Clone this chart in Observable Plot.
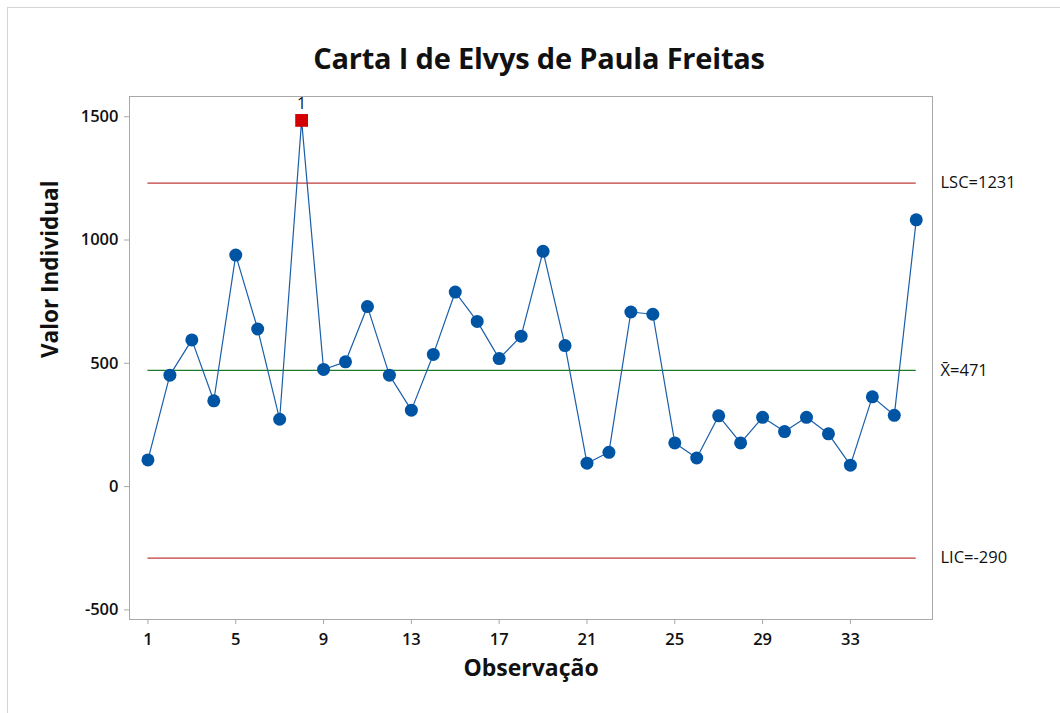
<!DOCTYPE html>
<html>
<head>
<meta charset="utf-8">
<script src="https://cdn.jsdelivr.net/npm/d3@7"></script>
<script src="https://cdn.jsdelivr.net/npm/@observablehq/plot@0.6"></script>
<style>
  html, body { margin: 0; padding: 0; background: #fff; overflow: hidden; }
  #wrap { position: relative; width: 1060px; height: 713px; overflow: hidden; font-family: "Open Sans", "Noto Sans", sans-serif; }
  #border { position: absolute; left: 7px; top: 7px; width: 1200px; height: 900px; border-left: 1px solid #d4d4d4; border-top: 1px solid #d4d4d4; pointer-events: none; }
  #title { height: 80px; box-sizing: border-box; padding-top: 42px; font-size: 29px; line-height: 32px; font-weight: 700; text-align: center; color: #111; padding-left: 18px; letter-spacing: -0.2px; }
  svg { display: block; }
</style>
</head>
<body>
<div id="wrap">
  <div id="border"></div>
  <div id="title">Carta I de Elvys de Paula Freitas</div>
  <div id="chart"></div>
</div>
<script>
// Observation numbers
const observations = [1,2,3,4,5,6,7,8,9,10,11,12,13,14,15,16,17,18,19,20,21,22,23,24,25,26,27,28,29,30,31,32,33,34,35,36];
// Individual values
const values = [108,452,595,348,939,639,273,1485,475,506,730,452,310,536,789,670,519,610,954,572,95,139,708,699,177,116,287,177,281,223,281,214,87,364,289,1082];
// Control limits
const limitNames = ["LSC=1231", "X\u0304=471", "LIC=-290"];
const limitValues = [1231, 471, -290];
const limitColors = ["#c23b3b", "#1d7a2e", "#c23b3b"];
// Out-of-control points (observation numbers) and test label
const flagged = [8];
const flagLabel = "1";
// Tick labels
const xTicks = [1,5,9,13,17,21,25,29,33];
const yTicks = [-500,0,500,1000,1500];

const data = observations.map((o, i) => ({obs: o, value: values[i], flag: flagged.includes(o)}));
const limits = limitNames.map((n, i) => ({name: n, value: limitValues[i], color: limitColors[i], x1: observations[0], x2: observations[observations.length - 1]}));

const chart = Plot.plot({
  width: 1060,
  height: 633,
  marginLeft: 129,
  marginRight: 128,
  marginTop: 16,
  marginBottom: 94,
  style: {fontFamily: "'Open Sans', 'Noto Sans', sans-serif", background: "transparent", overflow: "visible"},
  x: {domain: [0.16, 36.74]},
  y: {domain: [-539, 1582]},
  marks: [
    Plot.frame({stroke: "#a8a8a8"}),
    Plot.axisX({ticks: xTicks, tickFormat: d => String(d), tickSize: 5, tickPadding: 9, fontSize: 16.5, fontWeight: 600, stroke: "#a8a8a8", fill: "#111", label: null}),
    Plot.axisY({ticks: yTicks, tickFormat: d => String(d), tickSize: 5, tickPadding: 6, fontSize: 16.5, fontWeight: 600, stroke: "#a8a8a8", fill: "#111", label: null}),
    Plot.ruleY(limits, {y: "value", x1: "x1", x2: "x2", stroke: "color", strokeWidth: 1.3}),
    Plot.line(data, {x: "obs", y: "value", stroke: "#1a5eaa", strokeWidth: 1.2}),
    Plot.dot(data.filter(d => !d.flag), {x: "obs", y: "value", r: 6.5, fill: "#0054a4"}),
    Plot.dot(data.filter(d => d.flag), {x: "obs", y: "value", symbol: "square", r: 7.2, fill: "#d40000"}),
    Plot.text(data.filter(d => d.flag), {x: "obs", y: "value", text: () => flagLabel, dy: -17, fontSize: 16, fill: "#111"}),
    Plot.text(limits, {y: "value", text: "name", frameAnchor: "right", dx: 8, textAnchor: "start", fontSize: 16.5, fill: "#111"}),
    Plot.text(["Valor Individual"], {text: d => d, frameAnchor: "left", rotate: -90, dx: -79, fontSize: 22.5, fontWeight: 700, fill: "#111"}),
    Plot.text(["Observação"], {text: d => d, frameAnchor: "bottom", dy: 56, fontSize: 23, fontWeight: 700, fill: "#111"})
  ]
});
document.getElementById("chart").appendChild(chart);
</script>
</body>
</html>
